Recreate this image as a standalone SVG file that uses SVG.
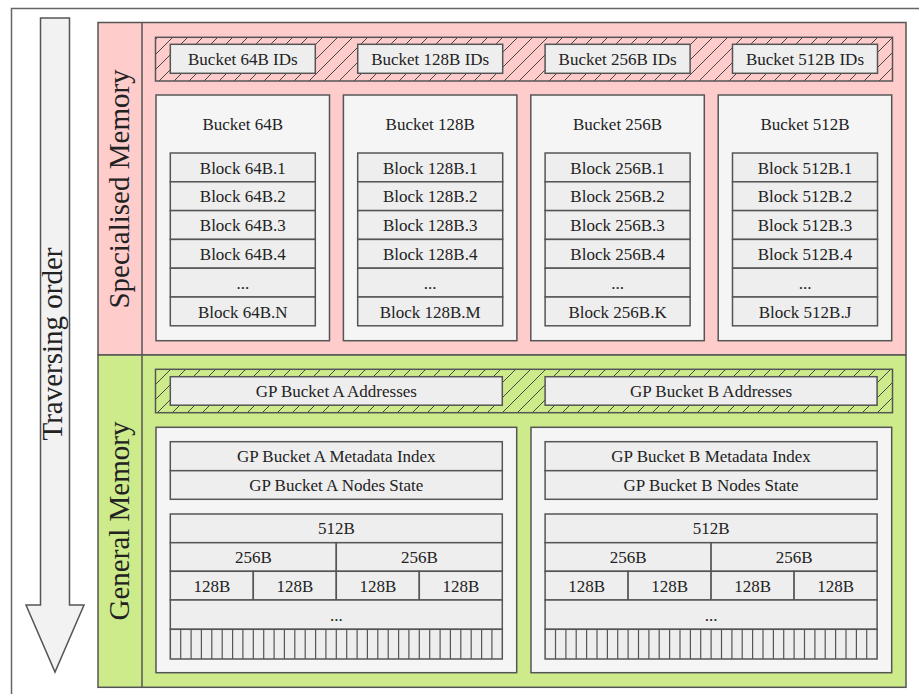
<svg xmlns="http://www.w3.org/2000/svg" width="919" height="694" viewBox="0 0 919 694">
<defs>
<pattern id="hatch" patternUnits="userSpaceOnUse" width="15" height="15">
<path d="M0,15 L15,0 M-4,4 L4,-4 M11,19 L19,11" stroke="#444" stroke-width="1"/>
</pattern>
<style>
.frame{fill:#fff;stroke:#666;stroke-width:1.5}
.ln{stroke:#555;stroke-width:1.5}
.pink{fill:#ffcccc;stroke:#555;stroke-width:1.5}
.green{fill:#cdeb8b;stroke:#555;stroke-width:1.5}
.hatchbg{stroke:#555;stroke-width:1.5}
.cont{fill:#f5f5f5;stroke:#555;stroke-width:1.5}
.box{fill:#eeeeee;stroke:#555;stroke-width:1.5}
.arrow{fill:#f2f2f2;stroke:#555;stroke-width:1.5}
text{font-family:"Liberation Serif","Times New Roman",serif;fill:#222;text-anchor:middle}
.t{font-size:17px}
.big{font-size:29px}
.thin{stroke:#555;stroke-width:1.2}
</style>
</defs>
<rect class="frame" x="11.5" y="8.5" width="920" height="700"/>
<g id="traverse-arrow">
<polygon class="arrow" points="40.5,18 69.5,18 69.5,605 84,605 55,672 26,605 40.5,605"/>
<text class="big" transform="translate(62,344) rotate(-90)">Traversing order</text>
</g>
<g id="specialised-memory">
<rect class="pink" x="98" y="22.5" width="808" height="332.5"/>
<line class="ln" x1="142" y1="22.5" x2="142" y2="355"/>
<text class="big" transform="translate(129,189) rotate(-90)">Specialised Memory</text>
<rect x="155.5" y="37.3" width="737" height="43.7" fill="#ffcccc"/>
<rect x="155.5" y="37.3" width="737" height="43.7" fill="url(#hatch)" class="hatchbg"/>
</g>
<g id="bucket-ids">
<rect class="box" x="170.3" y="44.3" width="145" height="29"/>
<text class="t" x="242.8" y="64.8">Bucket 64B IDs</text>
<rect class="box" x="357.7" y="44.3" width="145" height="29"/>
<text class="t" x="430.2" y="64.8">Bucket 128B IDs</text>
<rect class="box" x="545.1" y="44.3" width="145" height="29"/>
<text class="t" x="617.6" y="64.8">Bucket 256B IDs</text>
<rect class="box" x="732.5" y="44.3" width="145" height="29"/>
<text class="t" x="805" y="64.8">Bucket 512B IDs</text>
</g>
<g id="bucket-64B">
<rect class="cont" x="156" y="95" width="173.5" height="245.7"/>
<text class="t" x="242.8" y="130">Bucket 64B</text>
<rect class="box" x="170.3" y="153" width="145" height="28.8"/><text class="t" x="242.8" y="173.5">Block 64B.1</text>
<rect class="box" x="170.3" y="181.8" width="145" height="28.8"/><text class="t" x="242.8" y="202.3">Block 64B.2</text>
<rect class="box" x="170.3" y="210.6" width="145" height="28.8"/><text class="t" x="242.8" y="231.1">Block 64B.3</text>
<rect class="box" x="170.3" y="239.4" width="145" height="28.8"/><text class="t" x="242.8" y="259.9">Block 64B.4</text>
<rect class="box" x="170.3" y="268.2" width="145" height="28.8"/><text class="t" x="242.8" y="288.7">...</text>
<rect class="box" x="170.3" y="297" width="145" height="28.8"/><text class="t" x="242.8" y="317.5">Block 64B.N</text>
</g>
<g id="bucket-128B">
<rect class="cont" x="343.4" y="95" width="173.5" height="245.7"/>
<text class="t" x="430.2" y="130">Bucket 128B</text>
<rect class="box" x="357.7" y="153" width="145" height="28.8"/><text class="t" x="430.2" y="173.5">Block 128B.1</text>
<rect class="box" x="357.7" y="181.8" width="145" height="28.8"/><text class="t" x="430.2" y="202.3">Block 128B.2</text>
<rect class="box" x="357.7" y="210.6" width="145" height="28.8"/><text class="t" x="430.2" y="231.1">Block 128B.3</text>
<rect class="box" x="357.7" y="239.4" width="145" height="28.8"/><text class="t" x="430.2" y="259.9">Block 128B.4</text>
<rect class="box" x="357.7" y="268.2" width="145" height="28.8"/><text class="t" x="430.2" y="288.7">...</text>
<rect class="box" x="357.7" y="297" width="145" height="28.8"/><text class="t" x="430.2" y="317.5">Block 128B.M</text>
</g>
<g id="bucket-256B">
<rect class="cont" x="530.8" y="95" width="173.5" height="245.7"/>
<text class="t" x="617.6" y="130">Bucket 256B</text>
<rect class="box" x="545.1" y="153" width="145" height="28.8"/><text class="t" x="617.6" y="173.5">Block 256B.1</text>
<rect class="box" x="545.1" y="181.8" width="145" height="28.8"/><text class="t" x="617.6" y="202.3">Block 256B.2</text>
<rect class="box" x="545.1" y="210.6" width="145" height="28.8"/><text class="t" x="617.6" y="231.1">Block 256B.3</text>
<rect class="box" x="545.1" y="239.4" width="145" height="28.8"/><text class="t" x="617.6" y="259.9">Block 256B.4</text>
<rect class="box" x="545.1" y="268.2" width="145" height="28.8"/><text class="t" x="617.6" y="288.7">...</text>
<rect class="box" x="545.1" y="297" width="145" height="28.8"/><text class="t" x="617.6" y="317.5">Block 256B.K</text>
</g>
<g id="bucket-512B">
<rect class="cont" x="718.2" y="95" width="173.5" height="245.7"/>
<text class="t" x="805" y="130">Bucket 512B</text>
<rect class="box" x="732.5" y="153" width="145" height="28.8"/><text class="t" x="805" y="173.5">Block 512B.1</text>
<rect class="box" x="732.5" y="181.8" width="145" height="28.8"/><text class="t" x="805" y="202.3">Block 512B.2</text>
<rect class="box" x="732.5" y="210.6" width="145" height="28.8"/><text class="t" x="805" y="231.1">Block 512B.3</text>
<rect class="box" x="732.5" y="239.4" width="145" height="28.8"/><text class="t" x="805" y="259.9">Block 512B.4</text>
<rect class="box" x="732.5" y="268.2" width="145" height="28.8"/><text class="t" x="805" y="288.7">...</text>
<rect class="box" x="732.5" y="297" width="145" height="28.8"/><text class="t" x="805" y="317.5">Block 512B.J</text>
</g>
<g id="general-memory">
<rect class="green" x="98" y="355" width="808" height="332.3"/>
<line class="ln" x1="142" y1="355" x2="142" y2="687.3"/>
<text class="big" transform="translate(129,521) rotate(-90)">General Memory</text>
<rect x="155.5" y="369.3" width="737" height="43.4" fill="#cdeb8b"/>
<rect x="155.5" y="369.3" width="737" height="43.4" fill="url(#hatch)" class="hatchbg"/>
</g>
<g id="gp-addresses">
<rect class="box" x="170.3" y="376.7" width="332" height="28.5"/>
<text class="t" x="336.3" y="397">GP Bucket A Addresses</text>
<rect class="box" x="545.1" y="376.7" width="332" height="28.5"/>
<text class="t" x="711.1" y="397">GP Bucket B Addresses</text>
</g>
<g id="gp-bucket-A">
<rect class="cont" x="156" y="427.3" width="360.7" height="245.4"/>
<rect class="box" x="170.3" y="441.7" width="332" height="29"/><text class="t" x="336.3" y="462.2">GP Bucket A Metadata Index</text>
<rect class="box" x="170.3" y="470.7" width="332" height="28.6"/><text class="t" x="336.3" y="491">GP Bucket A Nodes State</text>
<rect class="box" x="170.3" y="514" width="332" height="28.7"/><text class="t" x="336.3" y="534.3">512B</text>
<rect class="box" x="170.3" y="542.7" width="166" height="28.6"/><text class="t" x="253.3" y="563">256B</text>
<rect class="box" x="336.3" y="542.7" width="166" height="28.6"/><text class="t" x="419.3" y="563">256B</text>
<rect class="box" x="170.3" y="571.3" width="83" height="28.7"/><text class="t" x="211.8" y="591.6">128B</text>
<rect class="box" x="253.3" y="571.3" width="83" height="28.7"/><text class="t" x="294.8" y="591.6">128B</text>
<rect class="box" x="336.3" y="571.3" width="83" height="28.7"/><text class="t" x="377.8" y="591.6">128B</text>
<rect class="box" x="419.3" y="571.3" width="83" height="28.7"/><text class="t" x="460.8" y="591.6">128B</text>
<rect class="box" x="170.3" y="600" width="332" height="29.3"/><text class="t" x="336.3" y="620.6">...</text>
<rect class="box" x="170.3" y="629.3" width="332" height="29.7"/>
<path class="thin" d="M180.7,629.3V659M191.1,629.3V659M201.4,629.3V659M211.8,629.3V659M222.2,629.3V659M232.6,629.3V659M242.9,629.3V659M253.3,629.3V659M263.7,629.3V659M274.1,629.3V659M284.4,629.3V659M294.8,629.3V659M305.2,629.3V659M315.6,629.3V659M325.9,629.3V659M336.3,629.3V659M346.7,629.3V659M357.1,629.3V659M367.4,629.3V659M377.8,629.3V659M388.2,629.3V659M398.6,629.3V659M408.9,629.3V659M419.3,629.3V659M429.7,629.3V659M440.1,629.3V659M450.4,629.3V659M460.8,629.3V659M471.2,629.3V659M481.6,629.3V659M491.9,629.3V659"/>
</g>
<g id="gp-bucket-B">
<rect class="cont" x="531" y="427.3" width="360.7" height="245.4"/>
<rect class="box" x="545.1" y="441.7" width="332" height="29"/><text class="t" x="711.1" y="462.2">GP Bucket B Metadata Index</text>
<rect class="box" x="545.1" y="470.7" width="332" height="28.6"/><text class="t" x="711.1" y="491">GP Bucket B Nodes State</text>
<rect class="box" x="545.1" y="514" width="332" height="28.7"/><text class="t" x="711.1" y="534.3">512B</text>
<rect class="box" x="545.1" y="542.7" width="166" height="28.6"/><text class="t" x="628.1" y="563">256B</text>
<rect class="box" x="711.1" y="542.7" width="166" height="28.6"/><text class="t" x="794.1" y="563">256B</text>
<rect class="box" x="545.1" y="571.3" width="83" height="28.7"/><text class="t" x="586.6" y="591.6">128B</text>
<rect class="box" x="628.1" y="571.3" width="83" height="28.7"/><text class="t" x="669.6" y="591.6">128B</text>
<rect class="box" x="711.1" y="571.3" width="83" height="28.7"/><text class="t" x="752.6" y="591.6">128B</text>
<rect class="box" x="794.1" y="571.3" width="83" height="28.7"/><text class="t" x="835.6" y="591.6">128B</text>
<rect class="box" x="545.1" y="600" width="332" height="29.3"/><text class="t" x="711.1" y="620.6">...</text>
<rect class="box" x="545.1" y="629.3" width="332" height="29.7"/>
<path class="thin" d="M555.5,629.3V659M565.9,629.3V659M576.2,629.3V659M586.6,629.3V659M597,629.3V659M607.4,629.3V659M617.7,629.3V659M628.1,629.3V659M638.5,629.3V659M648.9,629.3V659M659.2,629.3V659M669.6,629.3V659M680,629.3V659M690.4,629.3V659M700.7,629.3V659M711.1,629.3V659M721.5,629.3V659M731.9,629.3V659M742.2,629.3V659M752.6,629.3V659M763,629.3V659M773.4,629.3V659M783.7,629.3V659M794.1,629.3V659M804.5,629.3V659M814.9,629.3V659M825.2,629.3V659M835.6,629.3V659M846,629.3V659M856.4,629.3V659M866.7,629.3V659"/>
</g>
<g id="connectors"></g>
</svg>
